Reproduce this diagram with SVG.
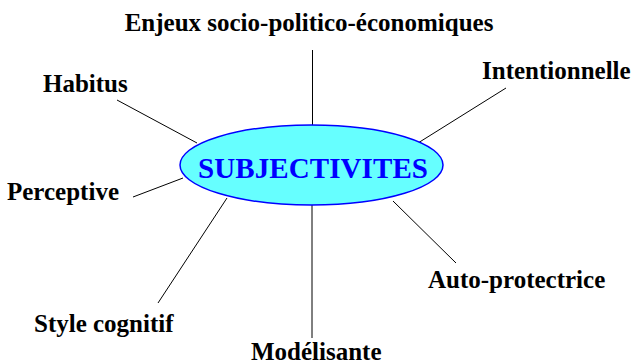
<svg xmlns="http://www.w3.org/2000/svg" width="633" height="364" viewBox="0 0 633 364">
<style>
.lbl{font-family:"Liberation Serif","Times New Roman",serif;font-weight:bold;font-size:25px;fill:#000}
.conn line{stroke:#000;stroke-width:1}
.main{font-family:"Liberation Serif","Times New Roman",serif;font-weight:bold;font-size:29px;fill:#0000ff}
</style>
<rect width="633" height="364" fill="#fff"/>
<g id="connectors" class="conn">
<line x1="312.5" y1="50" x2="312.5" y2="125"/>
<line x1="117" y1="100" x2="197" y2="143"/>
<line x1="133" y1="197" x2="183" y2="178"/>
<line x1="506" y1="88" x2="418" y2="143"/>
<line x1="393" y1="201" x2="456" y2="263"/>
<line x1="227" y1="198" x2="158" y2="303"/>
<line x1="312" y1="205" x2="312" y2="338"/>
</g>
<g id="center">
<ellipse cx="311.5" cy="165" rx="131.5" ry="40" fill="#66ffff" stroke="#0000ff" stroke-width="1.5"/>
<text class="main" x="313" y="178" text-anchor="middle" textLength="230">SUBJECTIVITES</text>
</g>
<g id="enjeux"><text class="lbl" x="309" y="31" text-anchor="middle">Enjeux socio-politico-économiques</text></g>
<g id="habitus"><text class="lbl" x="43" y="92">Habitus</text></g>
<g id="intentionnelle"><text class="lbl" x="482" y="79">Intentionnelle</text></g>
<g id="perceptive"><text class="lbl" x="7" y="200">Perceptive</text></g>
<g id="autoprotectrice"><text class="lbl" x="428" y="288">Auto-protectrice</text></g>
<g id="style"><text class="lbl" x="34" y="332">Style cognitif</text></g>
<g id="modelisante"><text class="lbl" x="251" y="360">Modélisante</text></g>
</svg>
